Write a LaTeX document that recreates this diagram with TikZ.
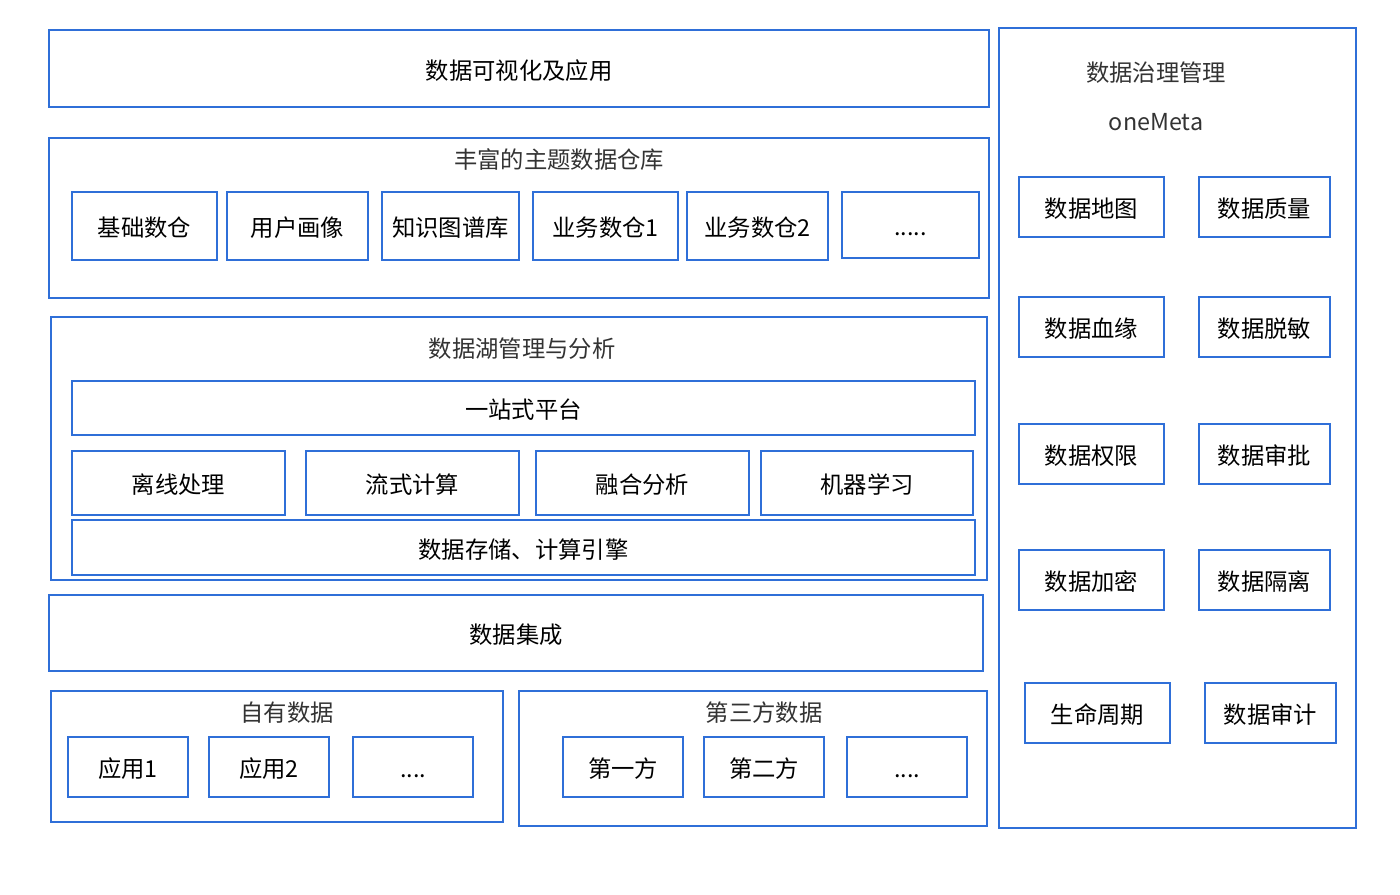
\documentclass[tikz,border=0pt]{standalone}
\usepackage{fontspec}
\setmainfont{Noto Sans CJK SC}
\definecolor{bblue}{HTML}{2F6FD8}
\definecolor{tgray}{HTML}{333333}
\tikzset{
  box/.style={draw=bblue, line width=1.6pt, fill=white, inner sep=0pt, text=black, text height=16.6pt, text depth=0.8pt, font=\fontsize{17.5}{19}\selectfont},
  ttl/.style={inner sep=0pt, text=tgray, text height=16.6pt, text depth=0.8pt, font=\fontsize{17.5}{19}\selectfont}
}
\newcommand\bx[6]{\node[box, minimum width={(#4-#2)*0.75pt}, minimum height={(#5-#3)*0.75pt}] (#1) at ({(#2+#4)/2},{(#3+#5)/2}) {#6};}
\begin{document}
\begin{tikzpicture}[x=0.75pt,y=-0.75pt]
\useasboundingbox (0,0) rectangle (1400,895);
% left column
\bx{vis}{49}{30}{989}{107}{数据可视化及应用}
\bx{dw}{49}{138}{989}{298}{}
\node[ttl] (dwt) at (559,158) {丰富的主题数据仓库};
\bx{dw1}{72}{192}{217}{260}{基础数仓}
\bx{dw2}{227}{192}{368}{260}{用户画像}
\bx{dw3}{382}{192}{519}{260}{知识图谱库}
\bx{dw4}{533}{192}{678}{260}{业务数仓1}
\bx{dw5}{687}{192}{828}{260}{业务数仓2}
\bx{dw6}{842}{192}{979}{258}{.....}
\bx{lake}{51}{317}{987}{580}{}
\node[ttl] (laket) at (522,347) {数据湖管理与分析};
\bx{one}{72}{381}{975}{435}{一站式平台}
\bx{l1}{72}{451}{285}{515}{离线处理}
\bx{l2}{306}{451}{519}{515}{流式计算}
\bx{l3}{536}{451}{749}{515}{融合分析}
\bx{l4}{761}{451}{973}{515}{机器学习}
\bx{store}{72}{520}{975}{575}{数据存储、计算引擎}
\bx{integ}{49}{595}{983}{671}{数据集成}
\bx{own}{51}{691}{503}{822}{}
\node[ttl] (ownt) at (287,711) {自有数据};
\bx{o1}{68}{737}{188}{797}{应用1}
\bx{o2}{209}{737}{329}{797}{应用2}
\bx{o3}{353}{737}{473}{797}{....}
\bx{third}{519}{691}{987}{826}{}
\node[ttl] (thirdt) at (764,711) {第三方数据};
\bx{t1}{563}{737}{683}{797}{第一方}
\bx{t2}{704}{737}{824}{797}{第二方}
\bx{t3}{847}{737}{967}{797}{....}
% right column
\bx{gov}{999}{28}{1356}{828}{}
\node[ttl] (govt) at (1156,71) {数据治理管理};
\node[ttl] (meta) at (1156,120) {oneMeta};
\bx{g1}{1019}{177}{1164}{237}{数据地图}
\bx{g2}{1199}{177}{1330}{237}{数据质量}
\bx{g3}{1019}{297}{1164}{357}{数据血缘}
\bx{g4}{1199}{297}{1330}{357}{数据脱敏}
\bx{g5}{1019}{424}{1164}{484}{数据权限}
\bx{g6}{1199}{424}{1330}{484}{数据审批}
\bx{g7}{1019}{550}{1164}{610}{数据加密}
\bx{g8}{1199}{550}{1330}{610}{数据隔离}
\bx{g9}{1025}{683}{1170}{743}{生命周期}
\bx{g10}{1205}{683}{1336}{743}{数据审计}
\end{tikzpicture}
\end{document}
